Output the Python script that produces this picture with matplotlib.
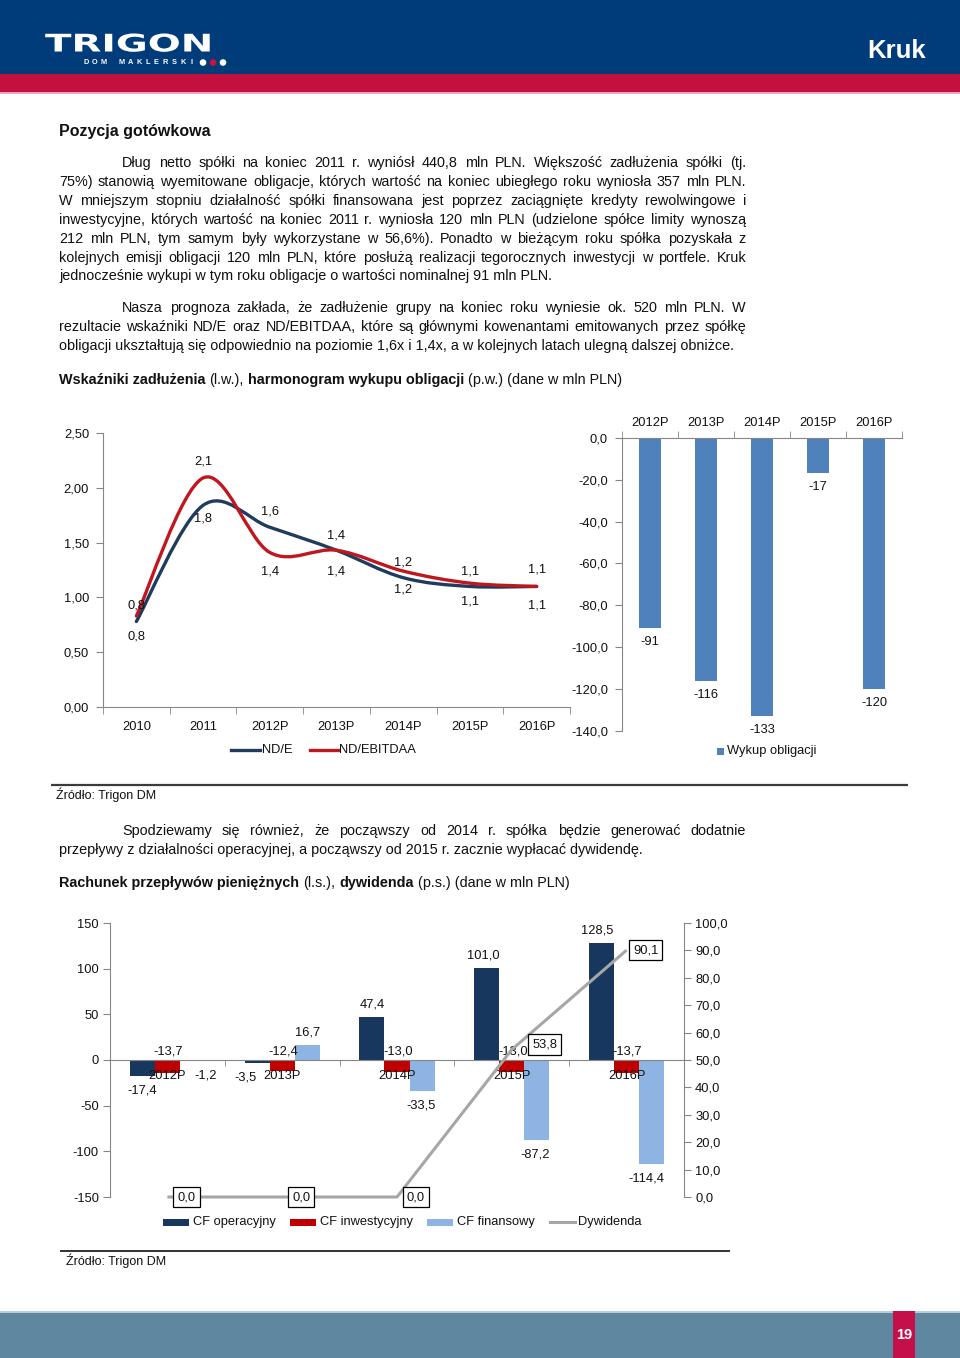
import matplotlib
matplotlib.use('Agg')
import matplotlib.pyplot as plt
import numpy as np
from matplotlib.patches import Rectangle, Circle, PathPatch
from matplotlib.path import Path
from matplotlib.lines import Line2D
from matplotlib.ticker import FuncFormatter
from matplotlib.transforms import Affine2D
import matplotlib.patheffects as pe

plt.rcParams['font.family'] = ['Liberation Sans', 'DejaVu Sans']

# ---------------- data ----------------
years_lines = ['2010', '2011', '2012P', '2013P', '2014P', '2015P', '2016P']
nd_e = [0.78, 1.84, 1.64, 1.43, 1.18, 1.10, 1.10]
nd_ebitdaa = [0.83, 2.09, 1.41, 1.43, 1.24, 1.13, 1.10]

bond_years = ['2012P', '2013P', '2014P', '2015P', '2016P']
bond_buyback = [-91, -116, -133, -17, -120]

cf_years = ['2012P', '2013P', '2014P', '2015P', '2016P']
cf_oper = [-17.4, -3.5, 47.4, 101.0, 128.5]
cf_inv = [-13.7, -12.4, -13.0, -13.0, -13.7]
cf_fin = [-1.2, 16.7, -33.5, -87.2, -114.4]
dividend = [0.0, 0.0, 0.0, 53.8, 90.1]

para1 = [
    "Dług netto spółki na koniec 2011 r. wyniósł 440,8 mln PLN. Większość zadłużenia spółki (tj.",
    "75%) stanowią wyemitowane obligacje, których wartość na koniec ubiegłego roku wyniosła 357 mln PLN.",
    "W mniejszym stopniu działalność spółki finansowana jest poprzez zaciągnięte kredyty rewolwingowe i",
    "inwestycyjne, których wartość na koniec 2011 r. wyniosła 120 mln PLN (udzielone spółce limity wynoszą",
    "212 mln PLN, tym samym były wykorzystane w 56,6%). Ponadto w bieżącym roku spółka pozyskała z",
    "kolejnych emisji obligacji 120 mln PLN, które posłużą realizacji tegorocznych inwestycji w portfele. Kruk",
    "jednocześnie wykupi w tym roku obligacje o wartości nominalnej 91 mln PLN.",
]
para2 = [
    "Nasza prognoza zakłada, że zadłużenie grupy na koniec roku wyniesie ok. 520 mln PLN. W",
    "rezultacie wskaźniki ND/E oraz ND/EBITDAA, które są głównymi kowenantami emitowanych przez spółkę",
    "obligacji ukształtują się odpowiednio na poziomie 1,6x i 1,4x, a w kolejnych latach ulegną dalszej obniżce.",
]
para3 = [
    "Spodziewamy się również, że począwszy od 2014 r. spółka będzie generować dodatnie",
    "przepływy z działalności operacyjnej, a począwszy od 2015 r. zacznie wypłacać dywidendę.",
]
heading1 = [("Wskaźniki zadłużenia", True), ("(l.w.),", False),
            ("harmonogram wykupu obligacji", True), ("(p.w.) (dane w mln PLN)", False)]
heading2 = [("Rachunek przepływów pieniężnych", True), ("(l.s.),", False),
            ("dywidenda", True), ("(p.s.) (dane w mln PLN)", False)]

# ---------------- styles ----------------
W, H = 960, 1358
BLUE_HDR = '#003B7A'
CRIMSON = '#C4103F'
FOOT = '#5F87A0'
GREY_AX = '#868686'
C_NDE = '#1F3B5E'
C_NDEB = '#C0161E'
C_BOND = '#4F81BD'
C_OP = '#17375E'
C_INV = '#C00000'
C_FIN = '#8EB4E3'
C_DIV = '#A6A6A6'
TXT = '#111111'
FS_BODY = 10.35
FS_HEAD = 10.4
FS_CH = 9.3

fig = plt.figure(figsize=(W / 100, H / 100), dpi=100)
page = fig.add_axes([0, 0, 1, 1], zorder=0)
page.set_xlim(0, W)
page.set_ylim(H, 0)
page.axis('off')
renderer = fig.canvas.get_renderer()


def ax_rect(x0, y0, x1, y1):
    return [x0 / W, 1 - y1 / H, (x1 - x0) / W, (y1 - y0) / H]


def text_width(s, **kw):
    t = page.text(0, 0, s, **kw)
    w = t.get_window_extent(renderer=renderer).width
    t.remove()
    return w


def put_line(x0, x1, y, s, justify=True, **kw):
    kw.setdefault('fontsize', FS_BODY)
    kw.setdefault('color', TXT)
    if not justify:
        page.text(x0, y, s, ha='left', va='baseline', **kw)
        return
    words = s.split()
    ws = [text_width(w, **kw) for w in words]
    gap = (x1 - x0 - sum(ws)) / (len(words) - 1)
    x = x0
    for w, wd in zip(words, ws):
        page.text(x, y, w, ha='left', va='baseline', **kw)
        x += wd + gap


def put_segments(x0, y, segs, fontsize=FS_HEAD):
    sp = text_width("a a", fontsize=fontsize) - text_width("aa", fontsize=fontsize)
    x = x0
    for s, bold in segs:
        wt = 'bold' if bold else 'normal'
        page.text(x, y, s, ha='left', va='baseline', fontsize=fontsize,
                  fontweight=wt, color=TXT)
        x += text_width(s, fontsize=fontsize, fontweight=wt) + sp


class HStretch(pe.AbstractPathEffect):
    """Stretch a text horizontally about a fixed display x position."""

    def __init__(self, sx, x0):
        super().__init__()
        self.sx = sx
        self.x0 = x0

    def draw_path(self, renderer, gc, tpath, affine, rgbFace=None):
        t = affine + Affine2D().translate(-self.x0, 0).scale(self.sx, 1).translate(self.x0, 0)
        renderer.draw_path(gc, tpath, t, rgbFace)


# ---------------- header / footer ----------------
page.add_patch(Rectangle((0, 0), W, 74, color=BLUE_HDR, lw=0))
page.add_patch(Rectangle((0, 74), W, 18, color=CRIMSON, lw=0))
page.add_patch(Rectangle((0, 92), W, 2, color='#EBA9BA', lw=0))

# logo
LOGO_FS = 17.5
logo_kw = dict(fontsize=LOGO_FS, fontweight='bold', family='DejaVu Sans')
nat_w = text_width("TRIGON", **logo_kw)
sx = (213 - 45) / nat_w
page.text(45, 51.5, "TRIGON", ha='left', va='baseline', color='white',
          path_effects=[HStretch(sx, 45)], **logo_kw)
for i, c in enumerate("DOM MAKLERSKI"):
    page.text(86 + i * 8.8, 62.5, c, ha='center', va='center', fontsize=5.3,
              color='white', fontweight='bold')
for cx, col in [(203, 'white'), (213, '#D0103F'), (223, 'white')]:
    page.add_patch(Circle((cx, 62.5), 3.3, color=col, lw=0))
page.text(926, 51, "Kruk", ha='right', va='center', fontsize=18.5, fontweight='bold',
          color='white')

page.add_patch(Rectangle((0, 1311), W, 2, color='#B7CCD9', lw=0))
page.add_patch(Rectangle((0, 1313), W, 45, color=FOOT, lw=0))
page.add_patch(Rectangle((893, 1311), 22, 47, color='#C4104A', lw=0))
page.text(904, 1335, "19", ha='center', va='center', fontsize=10.5, fontweight='bold',
          color='white')

# ---------------- text ----------------
page.text(59, 136, "Pozycja gotówkowa", ha='left', va='baseline', fontsize=11.5,
          fontweight='bold', color=TXT)

X0, X1 = 59, 746
ys1 = [167, 186, 205, 224, 243, 262, 280]
for i, (ln, y) in enumerate(zip(para1, ys1)):
    put_line(122 if i == 0 else X0, X1, y, ln, justify=(i < len(para1) - 1))
ys2 = [312, 331, 350]
for i, (ln, y) in enumerate(zip(para2, ys2)):
    put_line(122 if i == 0 else X0, X1, y, ln, justify=(i < len(para2) - 1))
put_segments(59, 384, heading1)

page.plot([51, 908], [784.5, 784.5], color='#3a3a3a', lw=1.6, solid_capstyle='butt')
page.text(56, 799, "Źródło: Trigon DM", ha='left', va='baseline', fontsize=9, color=TXT)

ys3 = [835, 854]
for i, (ln, y) in enumerate(zip(para3, ys3)):
    put_line(122 if i == 0 else X0, X1, y, ln, justify=(i < len(para3) - 1))
put_segments(59, 887, heading2)

page.plot([60, 730], [1251, 1251], color='#222222', lw=1.3, solid_capstyle='butt')
page.text(66, 1265, "Źródło: Trigon DM", ha='left', va='baseline', fontsize=9, color=TXT)


def fmt_comma(dec):
    return FuncFormatter(lambda v, p: f"{v:.{dec}f}".replace('.', ','))


# ---------------- chart 1 left: lines ----------------
ax1 = fig.add_axes(ax_rect(103, 433, 570, 707), zorder=2)
ax1.patch.set_alpha(0)
x7 = np.arange(len(years_lines))


def smooth_path(xs, ys):
    pts = np.column_stack([xs, ys]).astype(float)
    n = len(pts)
    verts = [pts[0]]
    codes = [Path.MOVETO]
    for i in range(n - 1):
        p0 = pts[i - 1] if i > 0 else pts[i]
        p1 = pts[i]
        p2 = pts[i + 1]
        p3 = pts[i + 2] if i + 2 < n else pts[i + 1]
        c1 = p1 + (p2 - p0) / 6.0
        c2 = p2 - (p3 - p1) / 6.0
        verts += [c1, c2, p2]
        codes += [Path.CURVE4] * 3
    return Path(verts, codes)


for vals, col in [(nd_e, C_NDE), (nd_ebitdaa, C_NDEB)]:
    ax1.add_patch(PathPatch(smooth_path(x7, vals), fc='none', ec=col, lw=2.4,
                            capstyle='round', joinstyle='round'))

lab_off_nde = [-15, -13, 16, 15, -12, -15, -19]
lab_off_ndeb = [11, 16, -19, -21, 9, 12, 17]
for vals, offs in [(nd_e, lab_off_nde), (nd_ebitdaa, lab_off_ndeb)]:
    for i, (v, o) in enumerate(zip(vals, offs)):
        ax1.annotate(f"{v:.1f}".replace('.', ','), (i, v), xytext=(0, o),
                     textcoords='offset pixels', ha='center', va='center',
                     fontsize=FS_CH, color=TXT, annotation_clip=False)

ax1.set_xlim(-0.5, 6.5)
ax1.set_ylim(0, 2.5)
ax1.set_yticks(np.arange(0, 2.51, 0.5))
ax1.yaxis.set_major_formatter(fmt_comma(2))
ax1.set_xticks(x7)
ax1.set_xticklabels(years_lines)
ax1.set_xticks(np.arange(-0.5, 7, 1), minor=True)
ax1.tick_params(axis='x', which='major', length=0, pad=10, labelsize=FS_CH, labelcolor=TXT)
ax1.tick_params(axis='x', which='minor', length=5, direction='out', color=GREY_AX)
ax1.tick_params(axis='y', length=5, direction='out', color=GREY_AX, pad=5,
                labelsize=FS_CH, labelcolor=TXT)
for s in ['top', 'right']:
    ax1.spines[s].set_visible(False)
for s in ['left', 'bottom']:
    ax1.spines[s].set_color(GREY_AX)

# legend chart 1
page.add_line(Line2D([231, 260], [750, 750], color=C_NDE, lw=2.4))
page.text(262, 750, "ND/E", ha='left', va='center', fontsize=FS_CH, color=TXT)
page.add_line(Line2D([310, 338], [750, 750], color=C_NDEB, lw=2.4))
page.text(339, 750, "ND/EBITDAA", ha='left', va='center', fontsize=FS_CH, color=TXT)

# ---------------- chart 1 right: bond buyback ----------------
ax2 = fig.add_axes(ax_rect(622, 437.7, 902, 731), zorder=2)
ax2.patch.set_alpha(0)
x5 = np.arange(len(bond_years))
ax2.bar(x5, bond_buyback, width=0.4, color=C_BOND)
for i, v in enumerate(bond_buyback):
    ax2.annotate(f"{v}", (i, v), xytext=(0, -14), textcoords='offset pixels',
                 ha='center', va='center', fontsize=FS_CH, color=TXT, annotation_clip=False)
ax2.set_xlim(-0.5, 4.5)
ax2.set_ylim(-140, 0)
ax2.set_yticks(np.arange(-140, 1, 20))
ax2.yaxis.set_major_formatter(fmt_comma(1))
ax2.xaxis.tick_top()
ax2.set_xticks(x5)
ax2.set_xticklabels(bond_years)
ax2.set_xticks(np.arange(-0.5, 5, 1), minor=True)
ax2.tick_params(axis='x', which='major', length=0, pad=6, labelsize=FS_CH, labelcolor=TXT)
ax2.tick_params(axis='x', which='minor', length=5, direction='out', color=GREY_AX)
ax2.tick_params(axis='y', length=5, direction='out', color=GREY_AX, pad=5,
                labelsize=FS_CH, labelcolor=TXT)
for s in ['bottom', 'right']:
    ax2.spines[s].set_visible(False)
for s in ['left', 'top']:
    ax2.spines[s].set_color(GREY_AX)

page.add_patch(Rectangle((717, 747.5), 7, 7, color=C_BOND, lw=0))
page.text(727, 751, "Wykup obligacji", ha='left', va='center', fontsize=FS_CH, color=TXT)

# ---------------- chart 2: cash flows + dividend ----------------
ax3 = fig.add_axes(ax_rect(110, 923, 684, 1197), zorder=2)
ax3.patch.set_alpha(0)
bw = 0.218
ax3.bar(x5 - bw, cf_oper, width=bw, color=C_OP)
ax3.bar(x5, cf_inv, width=bw, color=C_INV)
ax3.bar(x5 + bw, cf_fin, width=bw, color=C_FIN)


def lab(v):
    return f"{v:.1f}".replace('.', ',')


op_dx = [0, -12, 0, -3, -4]
for i, v in enumerate(cf_oper):
    ax3.annotate(lab(v), (i - bw, v), xytext=(op_dx[i], 12 if v > 0 else -14.5),
                 textcoords='offset pixels', ha='center', va='center', fontsize=FS_CH,
                 color=TXT, annotation_clip=False)
for i, v in enumerate(cf_inv):
    ax3.annotate(lab(v), (i, 0), xytext=(1, 8.5), textcoords='offset pixels',
                 ha='center', va='center', fontsize=FS_CH, color=TXT, annotation_clip=False)
fin_dx = [13, 0, -1, -2, -5]
for i, v in enumerate(cf_fin):
    ax3.annotate(lab(v), (i + bw, v), xytext=(fin_dx[i], 12 if v > 0 else -14.5),
                 textcoords='offset pixels', ha='center', va='center', fontsize=FS_CH,
                 color=TXT, annotation_clip=False)

ax3.set_xlim(-0.5, 4.5)
ax3.set_ylim(-150, 150)
ax3.set_yticks(np.arange(-150, 151, 50))
ax3.yaxis.set_major_formatter(FuncFormatter(lambda v, p: f"{v:.0f}"))
ax3.set_xticks(x5)
ax3.set_xticklabels(cf_years)
ax3.set_xticks(np.arange(-0.5, 5, 1), minor=True)
ax3.spines['bottom'].set_position(('data', 0))
ax3.spines['bottom'].set_color(GREY_AX)
ax3.spines['left'].set_color(GREY_AX)
ax3.spines['top'].set_visible(False)
ax3.spines['right'].set_visible(False)
ax3.tick_params(axis='x', which='major', length=0, pad=7, labelsize=FS_CH, labelcolor=TXT)
ax3.tick_params(axis='x', which='minor', length=4, direction='out', color=GREY_AX)
ax3.tick_params(axis='y', length=5, direction='out', color=GREY_AX, pad=3,
                labelsize=FS_CH, labelcolor=TXT)

ax4 = ax3.twinx()
ax4.plot(x5, dividend, color=C_DIV, lw=2.2, clip_on=False, solid_capstyle='butt')
div_off = [(19, 0), (19, 0), (19, 0), (33, 5), (19, 0)]
for i, v in enumerate(dividend):
    ax4.annotate(lab(v), (i, v), xytext=div_off[i], textcoords='offset pixels',
                 ha='center', va='center', fontsize=FS_CH, color=TXT, annotation_clip=False,
                 bbox=dict(boxstyle='square,pad=0.32', fc='white', ec='black', lw=0.9))
ax4.set_ylim(0, 100)
ax4.set_yticks(np.arange(0, 101, 10))
ax4.yaxis.set_major_formatter(fmt_comma(1))
for s in ['left', 'top', 'bottom']:
    ax4.spines[s].set_visible(False)
ax4.spines['right'].set_color(GREY_AX)
ax4.tick_params(axis='y', length=5, direction='out', color=GREY_AX, pad=3,
                labelsize=FS_CH, labelcolor=TXT)

# legend chart 2
for x0, col, name in [(163, C_OP, "CF operacyjny"), (290, C_INV, "CF inwestycyjny"),
                      (427, C_FIN, "CF finansowy")]:
    page.add_patch(Rectangle((x0, 1218.5), 26, 7, color=col, lw=0))
    page.text(x0 + 30, 1222, name, ha='left', va='center', fontsize=FS_CH, color=TXT)
page.add_line(Line2D([550, 575], [1222, 1222], color=C_DIV, lw=2.2))
page.text(578, 1222, "Dywidenda", ha='left', va='center', fontsize=FS_CH, color=TXT)

fig.savefig('out.png', dpi=100)
